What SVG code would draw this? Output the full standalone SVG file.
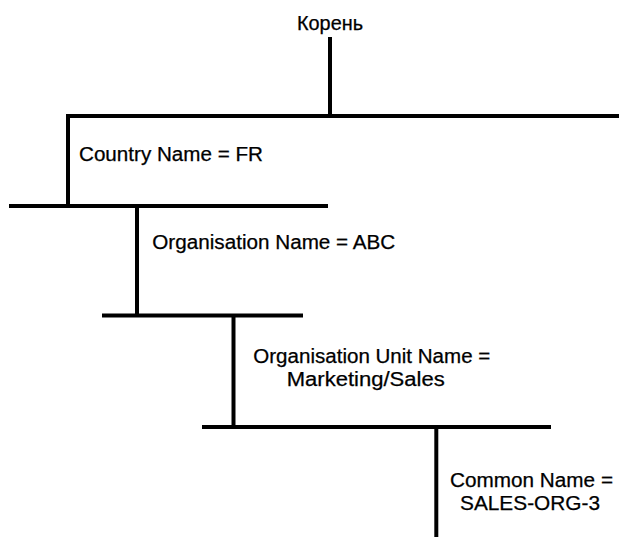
<svg xmlns="http://www.w3.org/2000/svg" width="619" height="538" viewBox="0 0 619 538">
<style>
.t{font-family:"Liberation Sans",Arial,sans-serif;font-size:19.5px;fill:#000;stroke:#000;stroke-width:0.25}
.c{stroke:#000;stroke-width:4;fill:none;stroke-linecap:butt}
</style>
<rect width="619" height="538" fill="#fff"/>
<g id="connectors" class="c">
<line x1="330" y1="37" x2="330" y2="116"/>
<line x1="66" y1="116" x2="619" y2="116"/>
<line x1="68" y1="116" x2="68" y2="206"/>
<line x1="9" y1="206" x2="328" y2="206"/>
<line x1="137" y1="206" x2="137" y2="315.5"/>
<line x1="102" y1="315.5" x2="303" y2="315.5"/>
<line x1="233.5" y1="315.5" x2="233.5" y2="427"/>
<line x1="202" y1="427" x2="551" y2="427"/>
<line x1="436.3" y1="427" x2="436.3" y2="537"/>
</g>
<g id="root"><text class="t" x="330" y="30" text-anchor="middle" textLength="66" lengthAdjust="spacingAndGlyphs">Корень</text></g>
<g id="country"><text class="t" x="79" y="160.5" textLength="184" lengthAdjust="spacingAndGlyphs">Country Name = FR</text></g>
<g id="organisation"><text class="t" x="152.3" y="248.5" textLength="243" lengthAdjust="spacingAndGlyphs">Organisation Name = ABC</text></g>
<g id="org-unit">
<text class="t" x="253.3" y="362.5" textLength="237" lengthAdjust="spacingAndGlyphs">Organisation Unit Name =</text>
<text class="t" x="286.7" y="386" textLength="158" lengthAdjust="spacingAndGlyphs">Marketing/Sales</text>
</g>
<g id="common-name">
<text class="t" x="450" y="486.5" textLength="163" lengthAdjust="spacingAndGlyphs">Common Name =</text>
<text class="t" x="460" y="510" textLength="140" lengthAdjust="spacingAndGlyphs">SALES-ORG-3</text>
</g>
</svg>
